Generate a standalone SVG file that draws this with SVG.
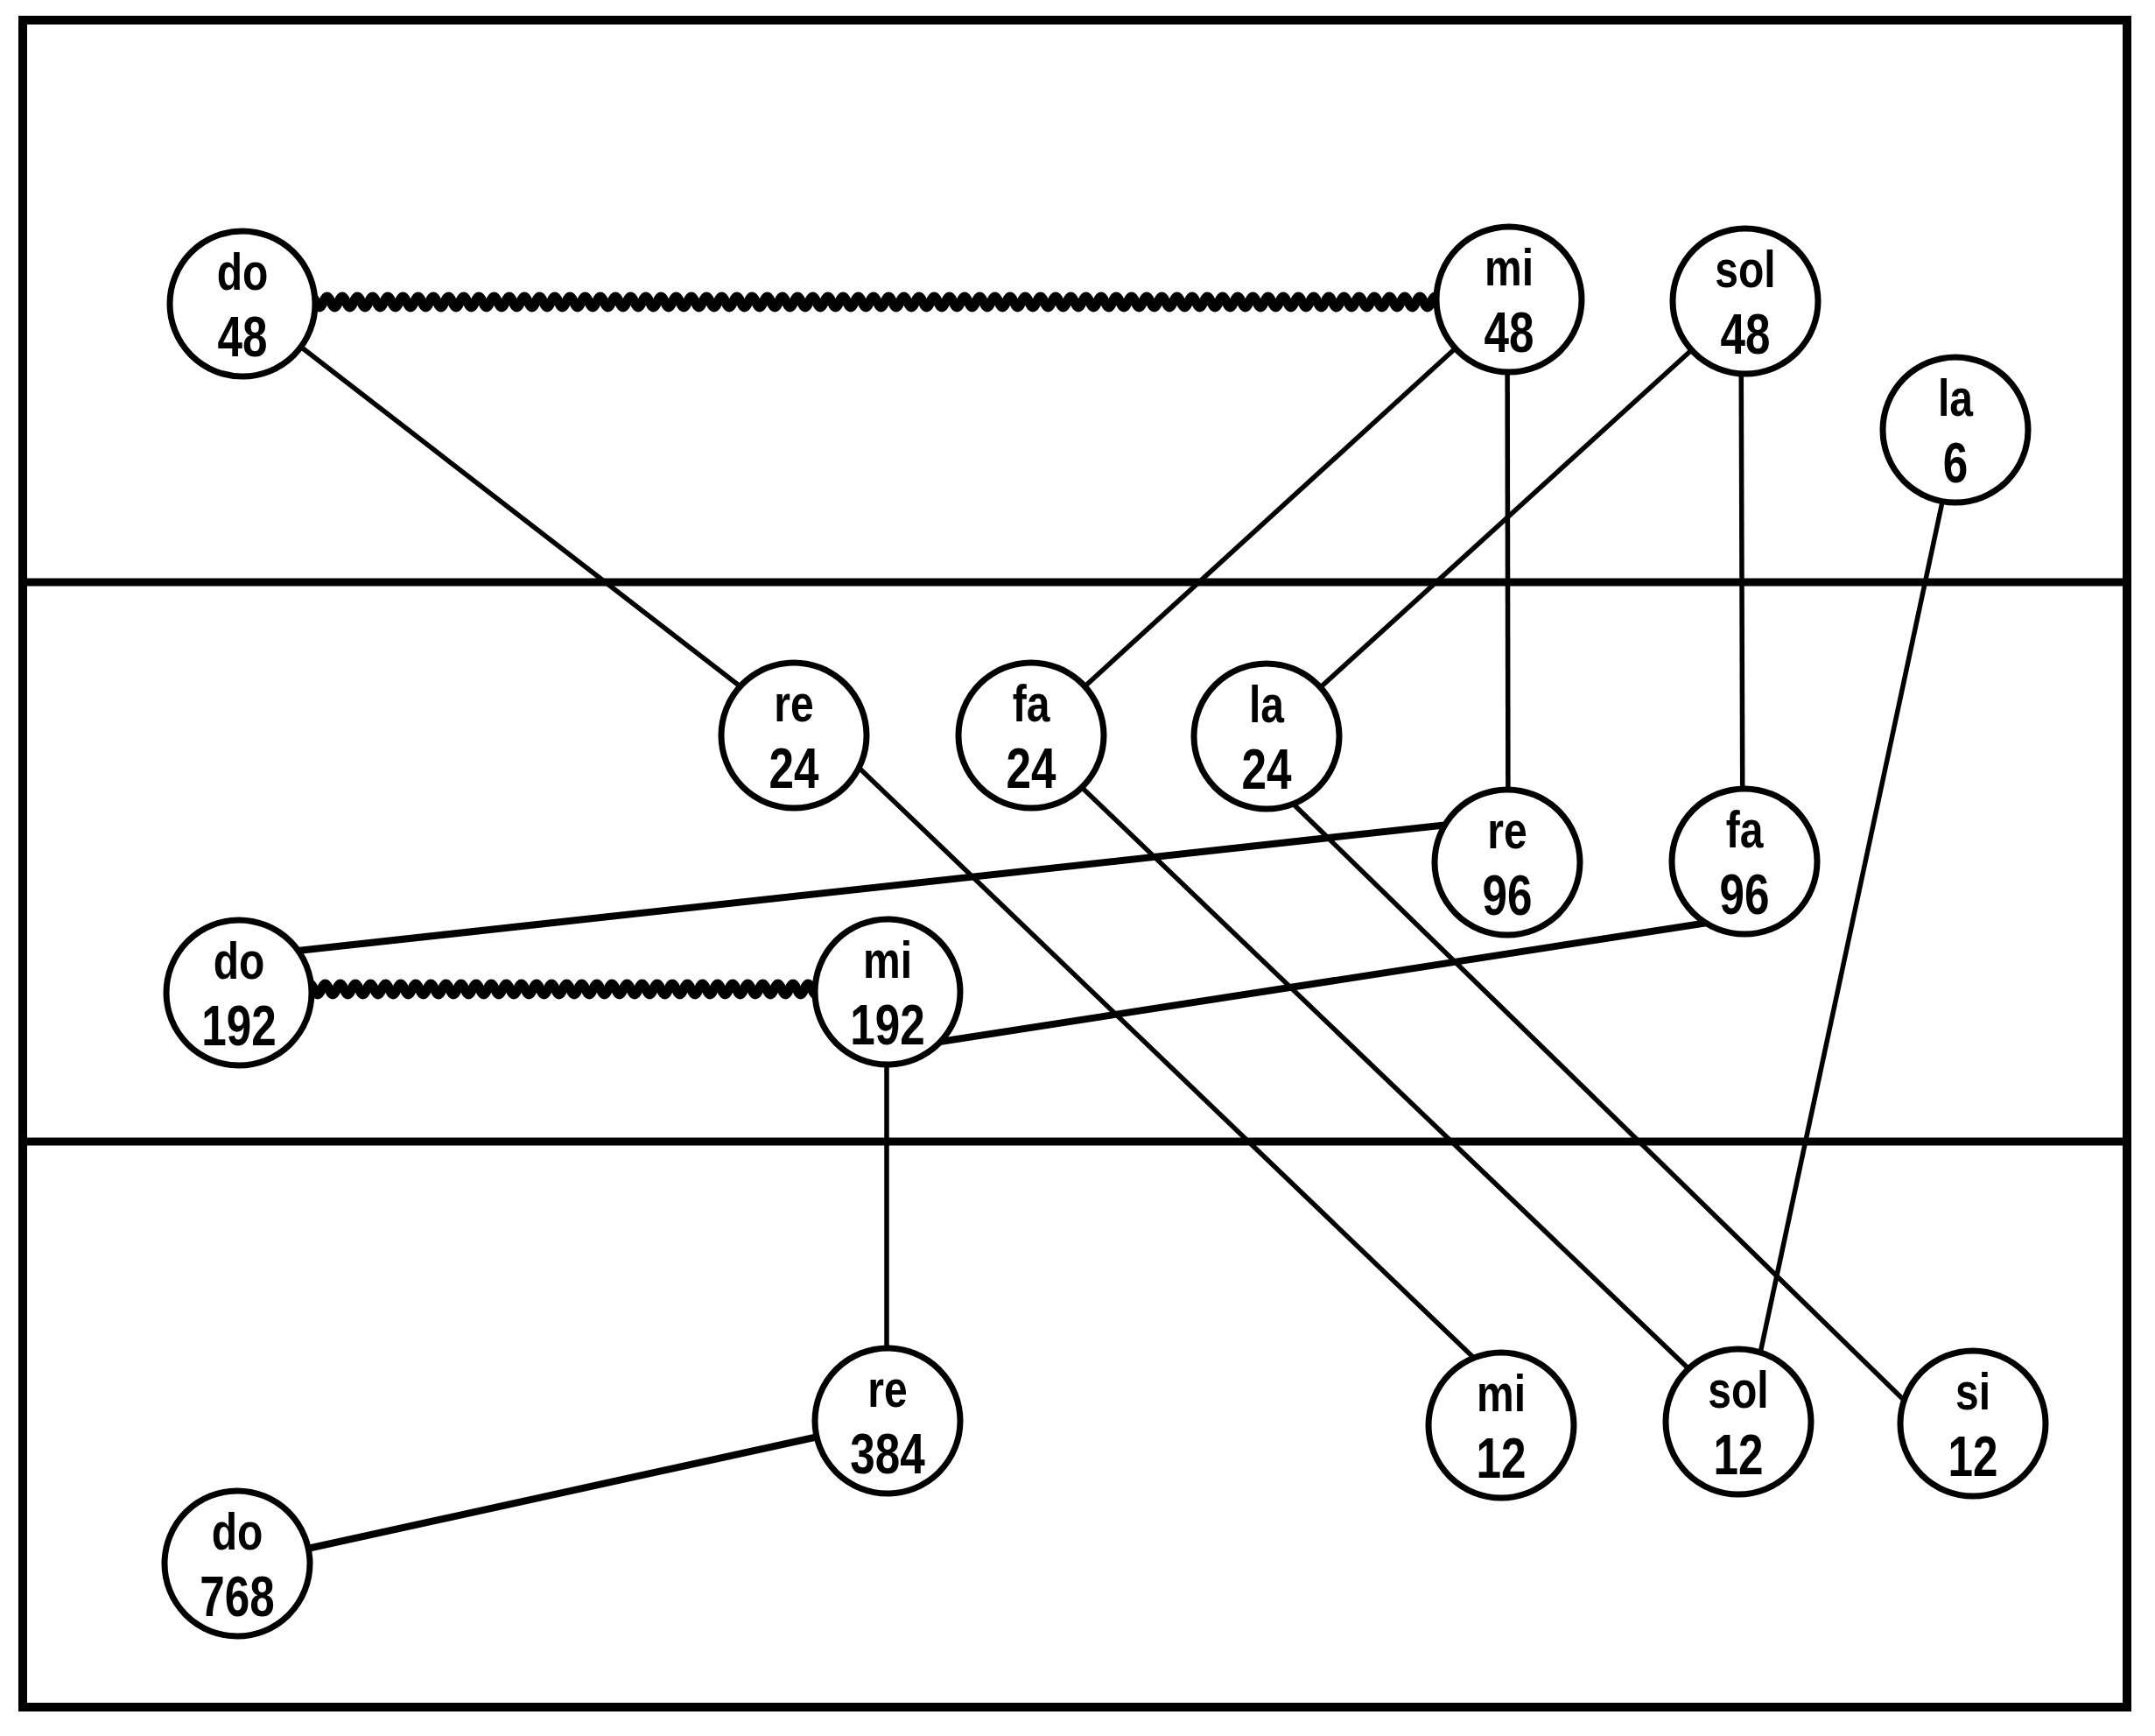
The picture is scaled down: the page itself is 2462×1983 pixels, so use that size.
<svg xmlns="http://www.w3.org/2000/svg" width="2462" height="1983" viewBox="0 0 2462 1983">
<style>
.frame{fill:none;stroke:#000;stroke-width:10}
.div{stroke:#000;stroke-width:9}
.thin{stroke:#000;stroke-width:5.5;fill:none}
.thick{stroke:#000;stroke-width:8;fill:none}
.coil{stroke:#000;stroke-width:11;fill:none}
.node circle{fill:#fff;stroke:#000;stroke-width:7}
.node text{font-family:"Liberation Sans",Arial,sans-serif;font-weight:bold;text-anchor:middle;fill:#000}
.a{font-size:60px}
.b{font-size:64px}
</style>
<rect width="2462" height="1983" fill="#fff"/>
<g id="frame">
<rect class="frame" x="26" y="23" width="2404" height="1927"/>
<line class="div" x1="26" y1="665" x2="2430" y2="665"/>
<line class="div" x1="26" y1="1304" x2="2430" y2="1304"/>
</g>
<g id="connectors">
<path class="coil" d="M352 345q4.335 -12 8.67 0t8.67 0 8.67 0 8.67 0 8.67 0 8.67 0 8.67 0 8.67 0 8.67 0 8.67 0 8.67 0
 8.67 0 8.67 0 8.67 0 8.67 0 8.67 0 8.67 0 8.67 0 8.67 0 8.67 0 8.67 0
 8.67 0 8.67 0 8.67 0 8.67 0 8.67 0 8.67 0 8.67 0 8.67 0 8.67 0 8.67 0
 8.67 0 8.67 0 8.67 0 8.67 0 8.67 0 8.67 0 8.67 0 8.67 0 8.67 0 8.67 0
 8.67 0 8.67 0 8.67 0 8.67 0 8.67 0 8.67 0 8.67 0 8.67 0 8.67 0 8.67 0
 8.67 0 8.67 0 8.67 0 8.67 0 8.67 0 8.67 0 8.67 0 8.67 0 8.67 0 8.67 0
 8.67 0 8.67 0 8.67 0 8.67 0 8.67 0 8.67 0 8.67 0 8.67 0 8.67 0 8.67 0
 8.67 0 8.67 0 8.67 0 8.67 0 8.67 0 8.67 0 8.67 0 8.67 0 8.67 0 8.67 0
 8.67 0 8.67 0 8.67 0 8.67 0 8.67 0 8.67 0 8.67 0 8.67 0 8.67 0 8.67 0
 8.67 0 8.67 0 8.67 0 8.67 0 8.67 0 8.67 0 8.67 0 8.67 0 8.67 0 8.67 0
 8.67 0 8.67 0 8.67 0 8.67 0 8.67 0 8.67 0 8.67 0 8.67 0 8.67 0 8.67 0
 8.67 0 8.67 0 8.67 0 8.67 0 8.67 0 8.67 0 8.67 0 8.67 0 8.67 0 8.67 0
 8.67 0 8.67 0 8.67 0 8.67 0 8.67 0 8.67 0 8.67 0 8.67 0 8.67 0 8.67 0
 8.67 0 8.67 0 8.67 0 8.67 0 8.67 0 8.67 0 8.67 0 8.67 0 8.67 0 8.67 0
 8.67 0 8.67 0 8.67 0 8.67 0 8.67 0 8.67 0 8.67 0 8.67 0 8.67 0 8.67 0
 8.67 0 8.67 0 8.67 0 8.67 0 8.67 0 8.67 0 8.67 0 8.67 0 8.67 0 8.67 0"/>
<path class="coil" d="M350 1130q4.31 -12 8.62 0t8.62 0 8.62 0 8.62 0 8.62 0 8.62 0 8.62 0 8.62 0 8.62 0 8.62 0 8.62 0
 8.62 0 8.62 0 8.62 0 8.62 0 8.62 0 8.62 0 8.62 0 8.62 0 8.62 0 8.62 0
 8.62 0 8.62 0 8.62 0 8.62 0 8.62 0 8.62 0 8.62 0 8.62 0 8.62 0 8.62 0
 8.62 0 8.62 0 8.62 0 8.62 0 8.62 0 8.62 0 8.62 0 8.62 0 8.62 0 8.62 0
 8.62 0 8.62 0 8.62 0 8.62 0 8.62 0 8.62 0 8.62 0 8.62 0 8.62 0 8.62 0
 8.62 0 8.62 0 8.62 0 8.62 0 8.62 0 8.62 0 8.62 0 8.62 0 8.62 0 8.62 0
 8.62 0 8.62 0 8.62 0 8.62 0 8.62 0 8.62 0 8.62 0 8.62 0"/>
<line class="thin" x1="337" y1="391" x2="852" y2="789"/>
<line class="thin" x1="1724" y1="342" x2="1178" y2="840"/>
<line class="thin" x1="1722" y1="342" x2="1723" y2="985"/>
<line class="thin" x1="1994" y1="344" x2="1447" y2="841"/>
<line class="thin" x1="1989" y1="344" x2="1991" y2="984"/>
<line class="thin" x1="2221" y1="564" x2="2009" y2="1555"/>
<line class="thin" x1="974" y1="870" x2="1691" y2="1558"/>
<line class="thin" x1="1224" y1="888" x2="1937" y2="1571"/>
<line class="thin" x1="1472" y1="913" x2="2182" y2="1606"/>
<line class="thin" x1="1013" y1="1133" x2="1013" y2="1623"/>
<line class="thick" x1="340" y1="1086" x2="1655" y2="942"/>
<line class="thick" x1="1067" y1="1191" x2="1964" y2="1052"/>
<line class="thick" x1="944" y1="1639" x2="342" y2="1771"/>
</g>
<g id="do48" class="node" transform="translate(277 347)"><circle r="83"/><text transform="scale(0.8 1)"><tspan class="a" x="0" y="-16">do</tspan><tspan class="b" x="0" y="60">48</tspan></text></g>
<g id="mi48" class="node" transform="translate(1724 342)"><circle r="83"/><text transform="scale(0.8 1)"><tspan class="a" x="0" y="-16">mi</tspan><tspan class="b" x="0" y="60">48</tspan></text></g>
<g id="sol48" class="node" transform="translate(1994 344)"><circle r="83"/><text transform="scale(0.8 1)"><tspan class="a" x="0" y="-16">sol</tspan><tspan class="b" x="0" y="60">48</tspan></text></g>
<g id="la6" class="node" transform="translate(2234 491)"><circle r="83"/><text transform="scale(0.8 1)"><tspan class="a" x="0" y="-16">la</tspan><tspan class="b" x="0" y="60">6</tspan></text></g>
<g id="re24" class="node" transform="translate(907 840)"><circle r="83"/><text transform="scale(0.8 1)"><tspan class="a" x="0" y="-16">re</tspan><tspan class="b" x="0" y="60">24</tspan></text></g>
<g id="fa24" class="node" transform="translate(1178 840)"><circle r="83"/><text transform="scale(0.8 1)"><tspan class="a" x="0" y="-16">fa</tspan><tspan class="b" x="0" y="60">24</tspan></text></g>
<g id="la24" class="node" transform="translate(1447 841)"><circle r="83"/><text transform="scale(0.8 1)"><tspan class="a" x="0" y="-16">la</tspan><tspan class="b" x="0" y="60">24</tspan></text></g>
<g id="re96" class="node" transform="translate(1722 985)"><circle r="83"/><text transform="scale(0.8 1)"><tspan class="a" x="0" y="-16">re</tspan><tspan class="b" x="0" y="60">96</tspan></text></g>
<g id="fa96" class="node" transform="translate(1993 984)"><circle r="83"/><text transform="scale(0.8 1)"><tspan class="a" x="0" y="-16">fa</tspan><tspan class="b" x="0" y="60">96</tspan></text></g>
<g id="do192" class="node" transform="translate(273 1134)"><circle r="83"/><text transform="scale(0.8 1)"><tspan class="a" x="0" y="-16">do</tspan><tspan class="b" x="0" y="60">192</tspan></text></g>
<g id="mi192" class="node" transform="translate(1014 1133)"><circle r="83"/><text transform="scale(0.8 1)"><tspan class="a" x="0" y="-16">mi</tspan><tspan class="b" x="0" y="60">192</tspan></text></g>
<g id="re384" class="node" transform="translate(1014 1623)"><circle r="83"/><text transform="scale(0.8 1)"><tspan class="a" x="0" y="-16">re</tspan><tspan class="b" x="0" y="60">384</tspan></text></g>
<g id="do768" class="node" transform="translate(271 1786)"><circle r="83"/><text transform="scale(0.8 1)"><tspan class="a" x="0" y="-16">do</tspan><tspan class="b" x="0" y="60">768</tspan></text></g>
<g id="mi12" class="node" transform="translate(1715 1628)"><circle r="83"/><text transform="scale(0.8 1)"><tspan class="a" x="0" y="-16">mi</tspan><tspan class="b" x="0" y="60">12</tspan></text></g>
<g id="sol12" class="node" transform="translate(1986 1624)"><circle r="83"/><text transform="scale(0.8 1)"><tspan class="a" x="0" y="-16">sol</tspan><tspan class="b" x="0" y="60">12</tspan></text></g>
<g id="si12" class="node" transform="translate(2254 1626)"><circle r="83"/><text transform="scale(0.8 1)"><tspan class="a" x="0" y="-16">si</tspan><tspan class="b" x="0" y="60">12</tspan></text></g>
</svg>
